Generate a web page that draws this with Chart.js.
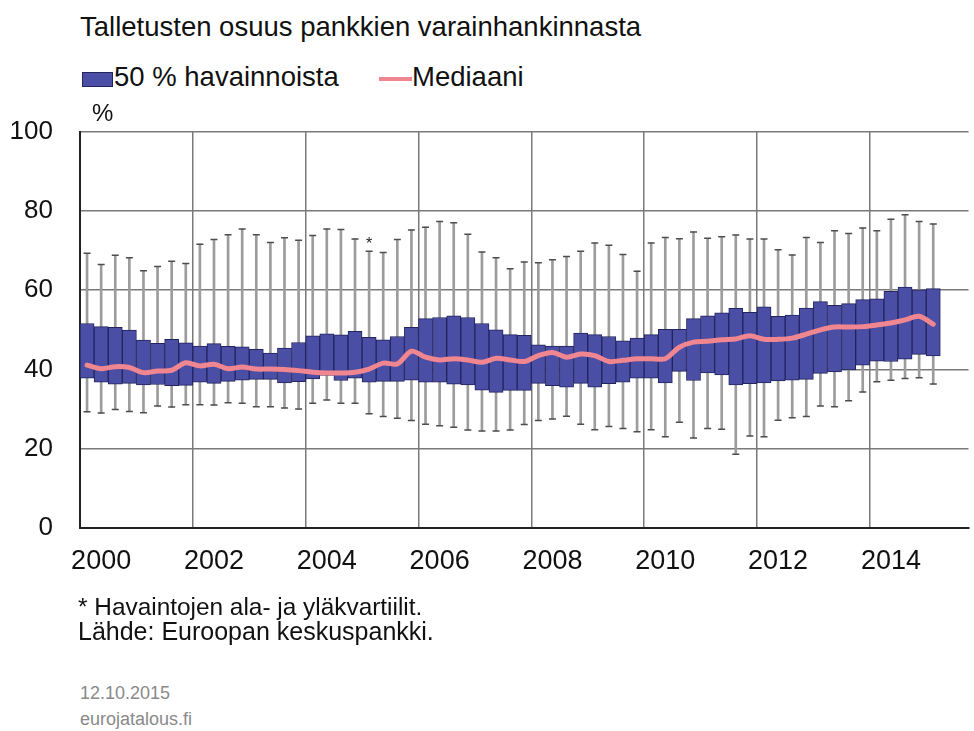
<!DOCTYPE html>
<html>
<head>
<meta charset="utf-8">
<script src="https://cdn.jsdelivr.net/npm/chart.js@4.4.1/dist/chart.umd.min.js"></script>
<style>
  body { margin: 0; background: #fff; font-family: "Liberation Sans", Arial, sans-serif; color: #111; }
  #wrap { position: relative; width: 974px; height: 731px; overflow: hidden; }
  .txt { position: absolute; white-space: nowrap; line-height: normal; }
  #chartBox { position: absolute; left: 0; top: 89px; width: 974px; height: 511px; }
</style>
</head>
<body>
<div id="wrap">
  <div class="txt" style="left:80px; top:11px; font-size:27.5px;">Talletusten osuus pankkien varainhankinnasta</div>

  <!-- legend -->
  <div style="position:absolute; left:82px; top:72px; width:29px; height:13px; background:#4a4fa5; border:1px solid #23245e;"></div>
  <div class="txt" style="left:114px; top:61px; font-size:27.5px;">50 % havainnoista</div>
  <div style="position:absolute; left:379px; top:77px; width:33px; height:4px; background:#f08690;"></div>
  <div class="txt" style="left:412px; top:61px; font-size:27.5px;">Mediaani</div>

  <div id="chartBox"><canvas id="boxChart"></canvas></div>

  <div class="txt" style="left:92px; top:99px; font-size:24px;">%</div>

  <div class="txt" style="left:78px; top:593px; font-size:24.4px;">* Havaintojen ala- ja yläkvartiilit.</div>
  <div class="txt" style="left:78px; top:617px; font-size:25px;">Lähde: Euroopan keskuspankki.</div>
  <div class="txt" style="left:80px; top:683px; font-size:18px; color:#8a8a8a;">12.10.2015</div>
  <div class="txt" style="left:80px; top:709px; font-size:18px; color:#8a8a8a;">eurojatalous.fi</div>
</div>

<script>
// quarterly observations 2000Q1 .. 2015Q1
const quarters = [
  "2000Q1","2000Q2","2000Q3","2000Q4","2001Q1","2001Q2","2001Q3","2001Q4",
  "2002Q1","2002Q2","2002Q3","2002Q4","2003Q1","2003Q2","2003Q3","2003Q4",
  "2004Q1","2004Q2","2004Q3","2004Q4","2005Q1","2005Q2","2005Q3","2005Q4",
  "2006Q1","2006Q2","2006Q3","2006Q4","2007Q1","2007Q2","2007Q3","2007Q4",
  "2008Q1","2008Q2","2008Q3","2008Q4","2009Q1","2009Q2","2009Q3","2009Q4",
  "2010Q1","2010Q2","2010Q3","2010Q4","2011Q1","2011Q2","2011Q3","2011Q4",
  "2012Q1","2012Q2","2012Q3","2012Q4","2013Q1","2013Q2","2013Q3","2013Q4",
  "2014Q1","2014Q2","2014Q3","2014Q4","2015Q1"
];

const whiskerMax = [
  69.3, 66.5, 68.8, 68.2, 64.9, 66.0, 67.3, 66.7, 71.6, 72.8, 74.0, 75.4, 74.0, 72.0, 73.2, 72.6,
  73.8, 75.4, 75.3, 72.9, 69.8, 69.5, 72.8, 75.2, 75.9, 77.3, 77.0, 74.1, 69.6, 68.2, 65.4, 67.1,
  66.9, 67.7, 68.5, 69.8, 71.9, 71.3, 69.0, 64.8, 71.9, 73.3, 73.0, 74.7, 73.1, 73.5, 73.9, 72.9,
  72.9, 70.2, 68.9, 73.3, 72.0, 75.0, 74.3, 75.7, 75.0, 77.9, 79.0, 77.3, 76.7
];

const upperQuartile = [
  51.6, 50.8, 50.6, 49.9, 47.4, 46.6, 47.6, 46.7, 45.9, 46.5, 45.8, 45.7, 45.1, 44.1, 45.4, 46.8,
  48.5, 49.0, 48.7, 49.6, 48.1, 47.5, 48.3, 50.6, 52.8, 53.1, 53.5, 53.1, 51.6, 50.0, 48.8, 48.6,
  46.2, 45.9, 45.9, 49.2, 48.8, 48.3, 47.2, 47.9, 48.8, 50.1, 50.1, 52.8, 53.5, 54.3, 55.4, 54.4,
  55.8, 53.4, 53.7, 55.5, 57.1, 56.2, 56.6, 57.6, 57.8, 59.7, 60.8, 60.1, 60.4
];

const median = [
  41.1, 40.2, 40.7, 40.5, 39.2, 39.6, 39.8, 41.7, 40.9, 41.3, 40.2, 40.6, 40.1, 40.1, 40.0, 39.7,
  39.3, 39.1, 39.1, 39.3, 40.1, 41.6, 41.4, 44.6, 43.1, 42.4, 42.7, 42.4, 41.8, 42.8, 42.4, 42.0,
  43.5, 44.3, 43.1, 43.9, 43.5, 42.0, 42.3, 42.7, 42.7, 42.7, 45.6, 46.9, 47.1, 47.5, 47.7, 48.5,
  47.6, 47.6, 47.9, 48.9, 50.0, 50.7, 50.7, 50.8, 51.2, 51.7, 52.5, 53.4, 51.4
];

const lowerQuartile = [
  37.8, 36.8, 36.3, 36.5, 36.1, 36.2, 35.9, 36.0, 36.8, 36.5, 37.0, 37.3, 37.5, 37.5, 36.6, 36.9,
  37.6, 38.5, 37.2, 37.8, 36.8, 37.0, 37.0, 37.3, 36.8, 36.8, 36.3, 36.1, 34.8, 34.2, 34.7, 34.7,
  36.5, 35.9, 35.5, 36.5, 35.5, 36.4, 36.8, 37.8, 37.8, 36.6, 39.5, 37.2, 39.1, 38.6, 36.1, 36.4,
  36.6, 37.1, 37.3, 37.5, 39.0, 39.4, 39.9, 41.1, 42.1, 42.0, 42.6, 43.8, 43.4
];

const whiskerMin = [
  29.3, 29.0, 29.9, 29.4, 29.1, 30.8, 30.5, 31.1, 31.1, 31.0, 31.6, 31.5, 30.6, 30.6, 30.3, 30.0,
  31.5, 32.3, 31.5, 31.5, 28.8, 28.1, 27.7, 27.1, 26.2, 25.8, 25.4, 24.7, 24.5, 24.5, 24.7, 26.1,
  27.1, 27.5, 28.2, 26.2, 24.8, 25.6, 25.1, 24.3, 24.8, 23.0, 26.7, 22.7, 25.1, 24.9, 18.6, 23.2,
  23.0, 27.2, 27.8, 28.1, 30.8, 30.6, 32.1, 34.3, 36.9, 37.3, 37.7, 37.9, 36.3
];

// x axis: one unit per quarter, gridline every two years, label on the 2nd quarter
const yearLabels = ["2000", "2002", "2004", "2006", "2008", "2010", "2012", "2014"];
const yearGridPos = [-0.5, 7.5, 15.5, 23.5, 31.5, 39.5, 47.5, 55.5];
const yearLabelPos = [1, 9, 17, 25, 33, 41, 49, 57];

// the lone asterisk above 2005Q1
const starIndex = 20;
const starValue = 72.3;

const GRID = "#7a7a7a";

const boxData = quarters.map((q, i) => ({ x: i, y: [lowerQuartile[i], upperQuartile[i]] }));
const whiskerData = quarters.map((q, i) => ({ x: i, y: [whiskerMin[i], whiskerMax[i]] }));
const capTop = quarters.map((q, i) => ({ x: i, y: whiskerMax[i] }));
const capBottom = quarters.map((q, i) => ({ x: i, y: whiskerMin[i] }));
const medianData = quarters.map((q, i) => ({ x: i, y: median[i] }));

const starPlugin = {
  id: "starNote",
  afterDatasetsDraw(chart) {
    const ctx = chart.ctx;
    const x = chart.scales.x.getPixelForValue(starIndex);
    const y = chart.scales.y.getPixelForValue(starValue);
    ctx.save();
    ctx.fillStyle = "#222";
    ctx.font = "16px 'Liberation Sans', Arial, sans-serif";
    ctx.textAlign = "center";
    ctx.textBaseline = "middle";
    ctx.fillText("*", x, y + 3);
    ctx.restore();
  },
};

const ctx = document.getElementById("boxChart").getContext("2d");

new Chart(ctx, {
  type: "bar",
  data: {
    datasets: [
      {
        // median line on top of everything
        type: "line",
        data: medianData,
        borderColor: "#f08690",
        borderWidth: 5,
        borderJoinStyle: "round",
        borderCapStyle: "round",
        pointRadius: 0,
        tension: 0.3,
        order: 0,
      },
      {
        type: "bar",
        data: boxData,
        backgroundColor: "#4a4fa5",
        borderColor: "#23245e",
        borderWidth: 1,
        borderSkipped: false,
        barPercentage: 1,
        categoryPercentage: 1,
        grouped: false,
        order: 1,
      },
      {
        type: "scatter",
        data: capTop,
        pointStyle: "line",
        pointRadius: 3.5,
        pointBorderColor: "#4d4d4d",
        pointBorderWidth: 1.5,
        order: 2,
      },
      {
        type: "scatter",
        data: capBottom,
        pointStyle: "line",
        pointRadius: 3.5,
        pointBorderColor: "#4d4d4d",
        pointBorderWidth: 1.5,
        order: 2,
      },
      {
        // whiskers: thin floating bars
        type: "bar",
        data: whiskerData,
        backgroundColor: "#9c9c9c",
        borderWidth: 0,
        maxBarThickness: 2,
        barPercentage: 1,
        categoryPercentage: 1,
        grouped: false,
        order: 3,
      },
    ],
  },
  options: {
    responsive: true,
    maintainAspectRatio: false,
    animation: false,
    layout: { padding: { top: 21, right: 2, left: 0, bottom: 0 } },
    plugins: {
      legend: { display: false },
      tooltip: { enabled: false },
    },
    scales: {
      x: {
        type: "linear",
        offset: false,
        min: -0.5,
        max: 62.5,
        afterBuildTicks: (axis) => {
          axis.ticks = yearGridPos.concat(yearLabelPos)
            .sort((a, b) => a - b)
            .map((v) => ({ value: v }));
        },
        afterFit: (axis) => { axis.height = 72; },
        ticks: {
          autoSkip: false,
          maxRotation: 0,
          padding: 17,
          color: "#111",
          font: { size: 27, family: "'Liberation Sans', Arial, sans-serif" },
          callback: (value) => {
            const idx = yearLabelPos.indexOf(value);
            return idx >= 0 ? yearLabels[idx] : "";
          },
        },
        grid: {
          offset: false,
          drawTicks: false,
          lineWidth: 1.5,
          color: (c) => (c.tick && yearGridPos.includes(c.tick.value) ? GRID : "rgba(0,0,0,0)"),
        },
        border: { color: "#222", width: 2 },
      },
      y: {
        min: 0,
        max: 100,
        afterFit: (axis) => { axis.width = 80; },
        ticks: {
          stepSize: 20,
          padding: 27,
          color: "#111",
          font: { size: 26, family: "'Liberation Sans', Arial, sans-serif" },
        },
        grid: { drawTicks: false, lineWidth: 1.5, color: GRID },
        border: { color: "#222", width: 2 },
      },
    },
  },
  plugins: [starPlugin],
});
</script>
</body>
</html>
